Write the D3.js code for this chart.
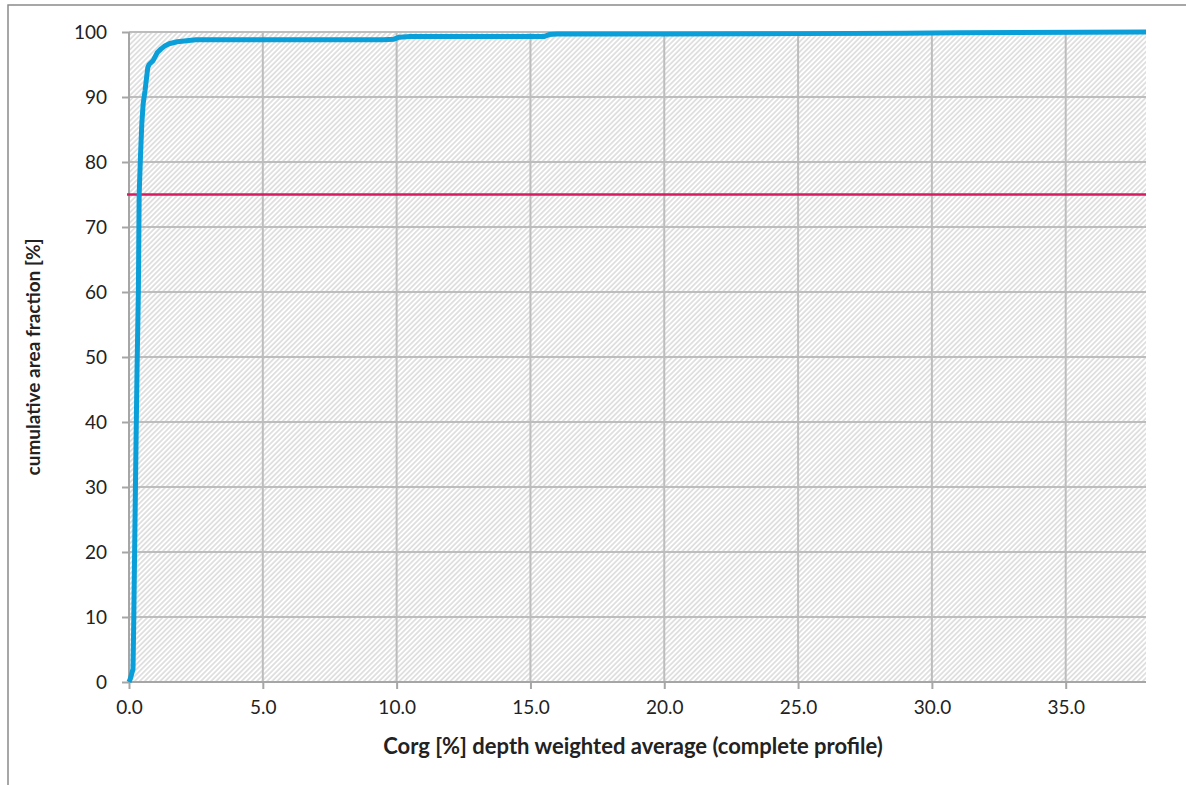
<!DOCTYPE html>
<html>
<head>
<meta charset="utf-8">
<script src="https://cdn.jsdelivr.net/npm/d3@7"></script>
<style>
  body { margin: 0; background: #fff; }
  text { font-family: Lato, "Open Sans", sans-serif; fill: #222; }
</style>
</head>
<body>
<div id="chart"></div>
<script>
// cumulative distribution
const corg = [0, 0.05, 0.15, 0.18, 0.21, 0.26, 0.3, 0.35, 0.38, 0.43, 0.48, 0.53, 0.6, 0.7, 0.75, 0.9, 1.05, 1.2, 1.35, 1.5, 1.8, 2.5, 5, 9.5, 9.9, 10.1, 10.5, 15.5, 15.7, 16, 20, 25, 29, 31, 38]
const cumArea = [0, 0.5, 2, 10, 20, 36, 48, 60, 75, 81, 86, 89, 91, 94.5, 95, 95.6, 96.8, 97.4, 97.9, 98.2, 98.5, 98.8, 98.8, 98.8, 98.9, 99.2, 99.3, 99.3, 99.6, 99.7, 99.7, 99.75, 99.8, 99.9, 100]
const threshold = [75]
const xTicks = [0, 5, 10, 15, 20, 25, 30, 35]
const yTicks = [0, 10, 20, 30, 40, 50, 60, 70, 80, 90, 100]
const xTitle = 'Corg [%] depth weighted average (complete profile)'
const yTitle = 'cumulative area fraction [%]'

const w = 1186;
const h = 785;
const pLeft = 129, pRight = 1146, pTop = 32, pBottom = 682;

const svg = d3.select('#chart').append('svg').attr('width', w).attr('height', h)

const x = d3.scaleLinear().domain([0, 38]).range([pLeft, pRight])
const y = d3.scaleLinear().domain([0, 100]).range([pBottom, pTop])

// outer frame
svg.append('rect')
    .attr('x', 8).attr('y', 5)
    .attr('width', 1300).attr('height', 900)
    .attr('fill', 'none')
    .attr('stroke', '#8a8a8a')
    .attr('stroke-width', 1.5)

// hatch background
const defs = svg.append('defs')
const pat = defs.append('pattern')
    .attr('id', 'hatch')
    .attr('patternUnits', 'userSpaceOnUse')
    .attr('width', 3.6).attr('height', 10)
    .attr('patternTransform', 'rotate(45)')
pat.append('rect').attr('width', 3.6).attr('height', 10).attr('fill', '#fff')
pat.append('line')
    .attr('x1', 0.9).attr('x2', 0.9).attr('y1', 0).attr('y2', 10)
    .attr('stroke', '#d6d6d6').attr('stroke-width', 1.4)

svg.append('rect')
    .attr('x', pLeft).attr('y', pTop)
    .attr('width', pRight - pLeft).attr('height', pBottom - pTop)
    .attr('fill', 'url(#hatch)')

// gridlines
svg.append('g').selectAll('line')
    .data(yTicks.slice(1))
    .enter().append('line')
    .attr('x1', pLeft).attr('x2', pRight)
    .attr('y1', d => y(d)).attr('y2', d => y(d))
    .attr('stroke', '#bdbdbd').attr('stroke-width', 2)
svg.append('g').selectAll('line')
    .data(xTicks.slice(1))
    .enter().append('line')
    .attr('x1', d => x(d)).attr('x2', d => x(d))
    .attr('y1', pTop).attr('y2', pBottom)
    .attr('stroke', '#bdbdbd').attr('stroke-width', 2)

// axes
const xAxis = svg.append('g')
    .attr('transform', `translate(0,${pBottom})`)
    .call(d3.axisBottom(x).tickValues(xTicks).tickFormat(d3.format('.1f')).tickSize(7).tickPadding(12))
const yAxis = svg.append('g')
    .attr('transform', `translate(${pLeft},0)`)
    .call(d3.axisLeft(y).tickValues(yTicks).tickSize(7).tickPadding(15))
;[xAxis, yAxis].forEach(a => {
    a.select('.domain').attr('stroke', '#a6a6a6').attr('stroke-width', 2)
    a.selectAll('.tick line').attr('stroke', '#a6a6a6').attr('stroke-width', 2)
    a.selectAll('.tick text')
        .attr('font-family', 'Lato, sans-serif')
        .attr('font-size', 19)
        .attr('fill', '#222')
})
yAxis.select('.domain').attr('d', `M0,${pBottom}V${pTop}`)
xAxis.select('.domain').attr('d', `M${pLeft},0H${pRight}`)

// threshold line
svg.selectAll('.thr')
    .data(threshold)
    .enter().append('line')
    .attr('class', 'thr')
    .attr('x1', pLeft - 2).attr('x2', pRight)
    .attr('y1', d => y(d)).attr('y2', d => y(d))
    .attr('stroke', '#d81b60').attr('stroke-width', 2.5)

// curve
const pts = corg.map((v, i) => [v, cumArea[i]])
svg.append('path')
    .datum(pts)
    .attr('d', d3.line().x(d => x(d[0])).y(d => y(d[1])))
    .attr('fill', 'none')
    .attr('stroke', '#0a9fd8')
    .attr('stroke-width', 5)
    .attr('stroke-linejoin', 'round')

// titles
svg.append('text')
    .attr('x', 633).attr('y', 754)
    .attr('text-anchor', 'middle')
    .attr('font-size', 22).attr('font-weight', 'bold')
    .attr('fill', '#111')
    .text(xTitle)
svg.append('text')
    .attr('transform', `translate(40,357) rotate(-90)`)
    .attr('text-anchor', 'middle')
    .attr('font-size', 19).attr('font-weight', 'bold')
    .attr('fill', '#111')
    .text(yTitle)
</script>
</body>
</html>
